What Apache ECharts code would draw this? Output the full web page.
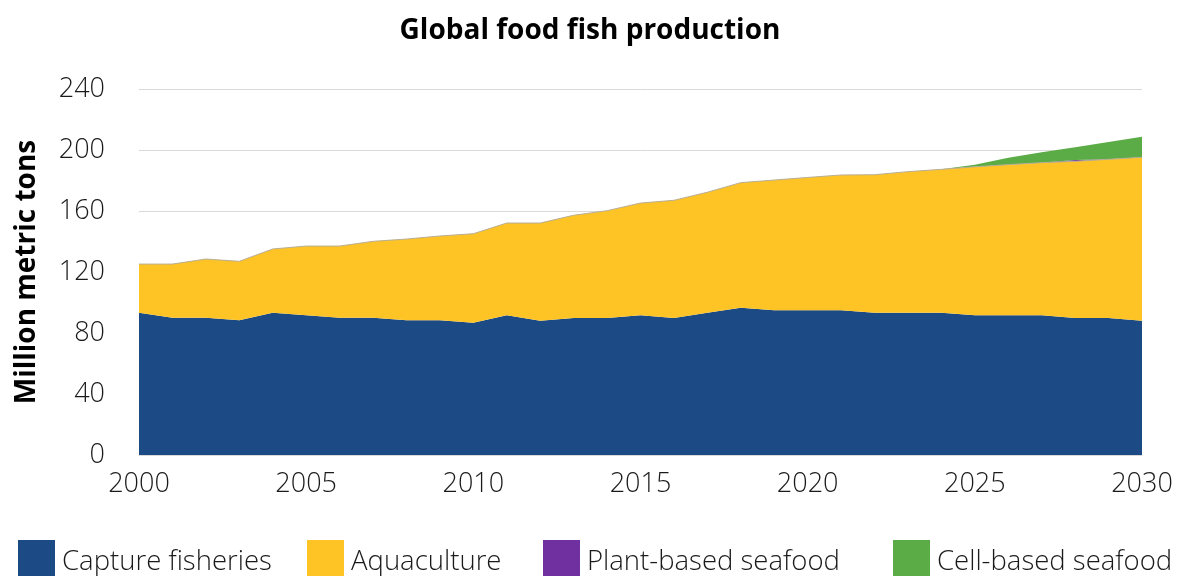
<!DOCTYPE html>
<html>
<head>
<meta charset="utf-8">
<title>Global food fish production</title>
<script src="https://cdn.jsdelivr.net/npm/echarts@6/dist/echarts.min.js"></script>
<style>
  html, body { margin: 0; padding: 0; background: #ffffff; }
  #chart { width: 1180px; height: 576px; }
</style>
</head>
<body>
<div id="chart"></div>
<script>
// Years on the horizontal axis
const years = [];
for (let y = 2000; y <= 2030; y++) years.push(String(y));

// Million metric tons, per year 2000–2030
const captureFisheries = [93.3, 90.0, 90.0, 88.3, 93.3, 91.6, 90.0, 90.0, 88.3, 88.3,
  86.8, 91.6, 88.1, 89.8, 89.8, 91.6, 89.8, 93.3, 96.6, 94.9,
  94.9, 94.9, 93.3, 93.3, 93.3, 91.6, 91.6, 91.6, 89.8, 89.8, 88.1];

const aquaculture = [31.9, 35.2, 38.5, 38.7, 41.8, 45.4, 47.0, 50.1, 53.3, 55.3,
  58.3, 60.5, 64.0, 67.4, 70.4, 73.6, 77.2, 79.0, 82.0, 85.4,
  87.1, 88.7, 90.5, 92.5, 94.0, 97.4, 98.8, 100.1, 102.8, 104.1, 107.1];

const plantBasedSeafood = [0, 0, 0, 0, 0, 0, 0, 0, 0, 0,
  0, 0, 0, 0, 0, 0, 0, 0, 0, 0,
  0, 0, 0, 0, 0, 0, 0, 0, 0.8, 0, 0];

const cellBasedSeafood = [0, 0, 0, 0, 0, 0, 0, 0, 0, 0,
  0, 0, 0, 0, 0, 0, 0, 0, 0, 0,
  0, 0, 0, 0, 0, 1.4, 4.6, 6.8, 8.4, 11.3, 13.5];

const yTicks = { min: 0, max: 240, step: 40 };

const FONT = '"Open Sans", "Noto Sans", sans-serif';
const COLORS = {
  capture: '#1c4a84',
  aqua: '#fec426',
  plant: '#7030a0',
  cell: '#5bac47'
};

function areaSeries(name, data, color, line) {
  return {
    name: name,
    type: 'line',
    stack: 'total',
    data: data,
    symbol: 'none',
    smooth: false,
    itemStyle: { color: color },
    lineStyle: line || { width: 0, color: color },
    areaStyle: { color: color, opacity: 1 },
    emphasis: { disabled: true },
    z: 2
  };
}

// Legend swatches run off the bottom edge of the canvas
function legendAt(left, name) {
  return {
    left: left,
    top: 540,
    padding: 0,
    itemWidth: 37,
    itemHeight: 45,
    icon: 'rect',
    selectedMode: false,
    data: [name],
    textStyle: {
      fontFamily: FONT,
      fontWeight: 300,
      fontSize: 27.5,
      color: '#1a1a1a',
      padding: [0, 0, 0, 2]
    }
  };
}

const chart = echarts.init(document.getElementById('chart'), null, { renderer: 'canvas' });

chart.setOption({
  animation: false,
  backgroundColor: '#ffffff',
  title: {
    text: 'Global food fish production',
    left: 'center',
    top: 12,
    textStyle: { fontFamily: FONT, fontWeight: 'bold', fontSize: 28, color: '#000000' }
  },
  legend: [
    legendAt(18, 'Capture fisheries'),
    legendAt(307, 'Aquaculture'),
    legendAt(543, 'Plant-based seafood'),
    legendAt(893, 'Cell-based seafood')
  ],
  grid: { left: 139, right: 38, top: 89, bottom: 121, containLabel: false, outerBoundsMode: 'none' },
  xAxis: {
    type: 'category',
    data: years,
    boundaryGap: false,
    axisLine: { show: true, lineStyle: { color: '#d9d9d9', width: 1 } },
    axisTick: { show: false },
    axisLabel: {
      interval: 4,
      margin: 16,
      fontFamily: FONT,
      fontWeight: 300,
      fontSize: 27,
      color: '#1a1a1a'
    },
    splitLine: { show: false }
  },
  yAxis: {
    type: 'value',
    min: yTicks.min,
    max: yTicks.max,
    interval: yTicks.step,
    name: 'Million metric tons',
    nameLocation: 'middle',
    nameRotate: 90,
    nameGap: 98,
    nameTextStyle: { fontFamily: FONT, fontWeight: 'bold', fontSize: 28, color: '#000000' },
    axisLine: { show: false },
    axisTick: { show: false },
    axisLabel: {
      margin: 34,
      fontFamily: FONT,
      fontWeight: 300,
      fontSize: 27,
      color: '#1a1a1a'
    },
    splitLine: { show: true, lineStyle: { color: '#d9d9d9', width: 1 } }
  },
  series: [
    areaSeries('Capture fisheries', captureFisheries, COLORS.capture),
    areaSeries('Aquaculture', aquaculture, COLORS.aqua, { width: 1, color: '#b9ae93' }),
    areaSeries('Plant-based seafood', plantBasedSeafood, COLORS.plant),
    areaSeries('Cell-based seafood', cellBasedSeafood, COLORS.cell)
  ]
});
</script>
</body>
</html>
